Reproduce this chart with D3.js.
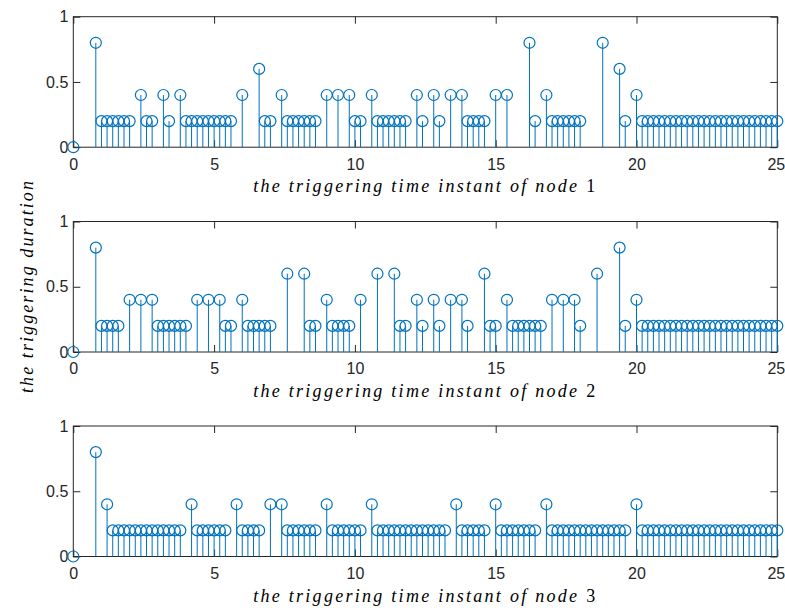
<!DOCTYPE html>
<html>
<head>
<meta charset="utf-8">
<script src="https://cdn.jsdelivr.net/npm/d3@7"></script>
<style>
  body { margin: 0; background: #fff; }
  svg { display: block; }
</style>
</head>
<body>
<svg id="chart" width="785" height="610"></svg>
<script>
// Triggering durations of each node, in triggering order.
// The k-th triggering instant is the running sum of the durations up to k.
const durationsNode1 = [
  0, 0.8,
  0.2, 0.2, 0.2, 0.2, 0.2, 0.2,
  0.4, 0.2, 0.2, 0.4, 0.2, 0.4,
  0.2, 0.2, 0.2, 0.2, 0.2, 0.2, 0.2, 0.2, 0.2,
  0.4, 0.6, 0.2, 0.2, 0.4,
  0.2, 0.2, 0.2, 0.2, 0.2, 0.2,
  0.4, 0.4, 0.4, 0.2, 0.2, 0.4,
  0.2, 0.2, 0.2, 0.2, 0.2, 0.2,
  0.4, 0.2, 0.4, 0.2, 0.4, 0.4,
  0.2, 0.2, 0.2, 0.2,
  0.4, 0.4, 0.8, 0.2, 0.4,
  0.2, 0.2, 0.2, 0.2, 0.2, 0.2,
  0.8, 0.6, 0.2, 0.4,
  0.2, 0.2, 0.2, 0.2, 0.2, 0.2, 0.2, 0.2, 0.2, 0.2, 0.2, 0.2, 0.2,
  0.2, 0.2, 0.2, 0.2, 0.2, 0.2, 0.2, 0.2, 0.2, 0.2, 0.2, 0.2
];

const durationsNode2 = [
  0, 0.8,
  0.2, 0.2, 0.2, 0.2,
  0.4, 0.4, 0.4,
  0.2, 0.2, 0.2, 0.2, 0.2, 0.2,
  0.4, 0.4, 0.4, 0.2, 0.2, 0.4,
  0.2, 0.2, 0.2, 0.2, 0.2,
  0.6, 0.6, 0.2, 0.2, 0.4,
  0.2, 0.2, 0.2, 0.2,
  0.4, 0.6, 0.6, 0.2, 0.2,
  0.4, 0.2, 0.4, 0.2, 0.4, 0.4, 0.2,
  0.6, 0.2, 0.2, 0.4,
  0.2, 0.2, 0.2, 0.2, 0.2, 0.2,
  0.4, 0.4, 0.4, 0.2, 0.6, 0.8, 0.2, 0.4,
  0.2, 0.2, 0.2, 0.2, 0.2, 0.2, 0.2, 0.2, 0.2, 0.2, 0.2, 0.2, 0.2,
  0.2, 0.2, 0.2, 0.2, 0.2, 0.2, 0.2, 0.2, 0.2, 0.2, 0.2, 0.2
];

const durationsNode3 = [
  0, 0.8, 0.4,
  0.2, 0.2, 0.2, 0.2, 0.2, 0.2, 0.2, 0.2, 0.2, 0.2, 0.2, 0.2, 0.2,
  0.4,
  0.2, 0.2, 0.2, 0.2, 0.2, 0.2,
  0.4,
  0.2, 0.2, 0.2, 0.2,
  0.4, 0.4,
  0.2, 0.2, 0.2, 0.2, 0.2, 0.2,
  0.4,
  0.2, 0.2, 0.2, 0.2, 0.2, 0.2,
  0.4,
  0.2, 0.2, 0.2, 0.2, 0.2, 0.2, 0.2, 0.2, 0.2, 0.2, 0.2, 0.2, 0.2,
  0.4,
  0.2, 0.2, 0.2, 0.2, 0.2,
  0.4,
  0.2, 0.2, 0.2, 0.2, 0.2, 0.2, 0.2,
  0.4,
  0.2, 0.2, 0.2, 0.2, 0.2, 0.2, 0.2, 0.2, 0.2, 0.2, 0.2, 0.2, 0.2, 0.2,
  0.4,
  0.2, 0.2, 0.2, 0.2, 0.2, 0.2, 0.2, 0.2, 0.2, 0.2, 0.2, 0.2, 0.2,
  0.2, 0.2, 0.2, 0.2, 0.2, 0.2, 0.2, 0.2, 0.2, 0.2, 0.2, 0.2
];

const nodeNames = ["1", "2", "3"];
const xTicks = [0, 5, 10, 15, 20, 25];
const yTicks = [0, 0.5, 1];
const yTickLabels = ["0", "0.5", "1"];
const xDomain = [0, 25];
const yDomain = [0, 1];

const xLabelText = "the triggering time instant of node ";
const yLabelText = "the triggering duration";

// ---- layout & style ----
const axisColor = "#262626";
const stemColor = "#0072BD";
const tickFont = "'Liberation Sans', Arial, Helvetica, sans-serif";
const labelFont = "'Liberation Serif', 'Times New Roman', serif";
const plotLeft = 73.3, plotRight = 777.3;
const panelTops = [16.7, 221.5, 426];
const panelHeight = 130.5;
const tickLen = 7;
const markerR = 5.5;

const svg = d3.select("#chart");
const x = d3.scaleLinear().domain(xDomain).range([plotLeft, plotRight]);

const allDurations = [durationsNode1, durationsNode2, durationsNode3];

function fitWidth(sel, target) {
  const w = sel.node().getComputedTextLength();
  const n = sel.text().length;
  if (n > 1) sel.attr("letter-spacing", ((target - w) / (n - 1)).toFixed(3));
}

allDurations.forEach((durations, i) => {
  const top = panelTops[i];
  const bottom = top + panelHeight;
  const y = d3.scaleLinear().domain(yDomain).range([bottom, top]);
  const instants = Array.from(d3.cumsum(durations));
  const points = durations.map((d, k) => ({ t: instants[k], v: d }));

  const g = svg.append("g");

  // tick marks and labels
  const styleAxis = sel => {
    sel.select(".domain").remove();
    sel.selectAll(".tick line").attr("stroke", axisColor).attr("stroke-width", 1);
    sel.selectAll(".tick text")
      .attr("fill", axisColor)
      .style("font-family", tickFont)
      .style("font-size", "16px");
  };

  g.append("g")
    .attr("transform", `translate(0,${bottom})`)
    .call(d3.axisBottom(x).tickValues(xTicks).tickFormat(d3.format("d"))
      .tickSizeInner(-tickLen).tickSizeOuter(0).tickPadding(11))
    .call(styleAxis)
    .call(sel => sel.selectAll(".tick text")
      .filter(d => d === xDomain[1]).attr("dx", -1.5));

  g.append("g")
    .attr("transform", `translate(0,${top})`)
    .call(d3.axisTop(x).tickValues(xTicks).tickFormat("")
      .tickSizeInner(-tickLen).tickSizeOuter(0))
    .call(styleAxis);

  g.append("g")
    .attr("transform", `translate(${plotLeft},0)`)
    .call(d3.axisLeft(y).tickValues(yTicks).tickFormat((d, k) => yTickLabels[k])
      .tickSizeInner(-tickLen).tickSizeOuter(0).tickPadding(5))
    .call(styleAxis);

  g.append("g")
    .attr("transform", `translate(${plotRight},0)`)
    .call(d3.axisRight(y).tickValues(yTicks).tickFormat("")
      .tickSizeInner(-tickLen).tickSizeOuter(0))
    .call(styleAxis);

  // axes box
  g.append("rect")
    .attr("x", plotLeft).attr("y", top)
    .attr("width", plotRight - plotLeft).attr("height", panelHeight)
    .attr("fill", "none").attr("stroke", axisColor).attr("stroke-width", 1);

  // stems
  g.append("g").selectAll("line")
    .data(points)
    .join("line")
    .attr("x1", d => x(d.t)).attr("x2", d => x(d.t))
    .attr("y1", y(0)).attr("y2", d => y(d.v))
    .attr("stroke", stemColor).attr("stroke-width", 1);

  // markers
  g.append("g").selectAll("circle")
    .data(points)
    .join("circle")
    .attr("cx", d => x(d.t)).attr("cy", d => y(d.v))
    .attr("r", markerR)
    .attr("fill", "none").attr("stroke", stemColor).attr("stroke-width", 1.2);

  // x label
  const xl = g.append("text")
    .attr("x", (plotLeft + plotRight) / 2)
    .attr("y", bottom + 45)
    .attr("text-anchor", "middle")
    .attr("fill", "#000")
    .style("font-family", labelFont)
    .style("font-size", "18px");
  xl.append("tspan").style("font-style", "italic").text(xLabelText);
  xl.append("tspan").text(nodeNames[i]);
  fitWidth(xl, 342);
});

// shared y label
const yl = svg.append("text")
  .attr("transform", `translate(33.3,286) rotate(-90)`)
  .attr("text-anchor", "middle")
  .attr("fill", "#000")
  .style("font-family", labelFont)
  .style("font-size", "18px")
  .style("font-style", "italic")
  .text(yLabelText);
fitWidth(yl, 212);
</script>
</body>
</html>
